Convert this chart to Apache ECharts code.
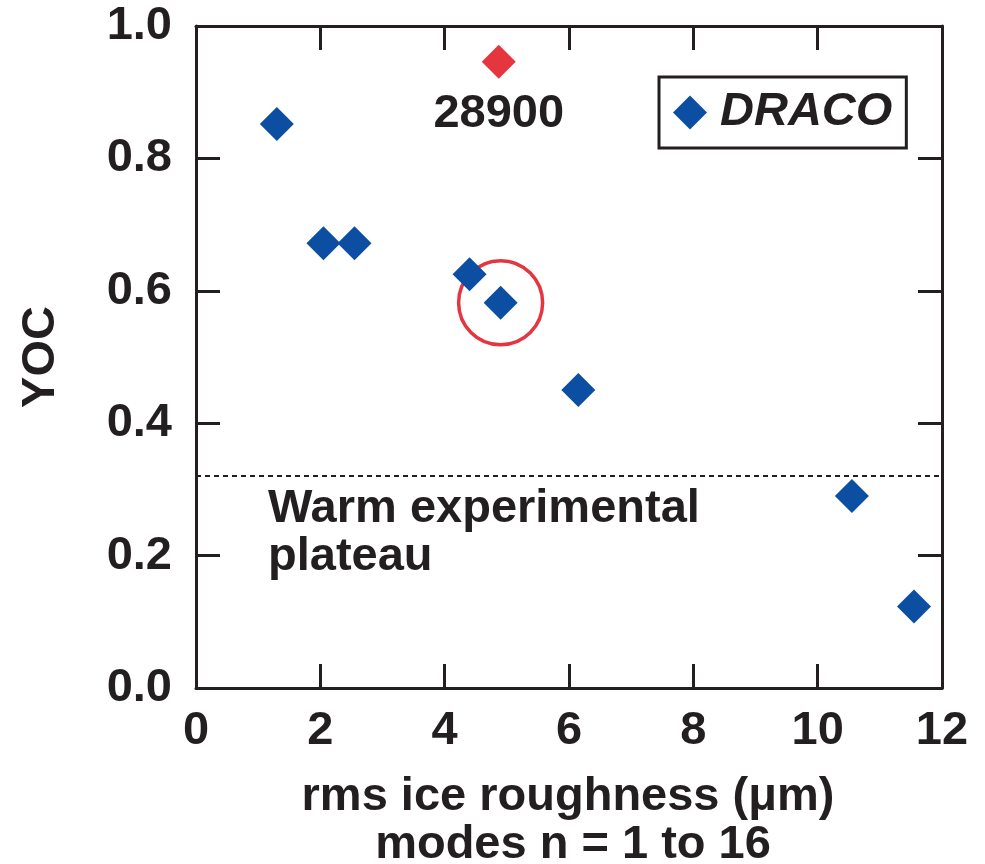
<!DOCTYPE html>
<html>
<head>
<meta charset="utf-8">
<script src="https://cdn.jsdelivr.net/npm/echarts@6/dist/echarts.min.js"></script>
<style>
  html, body { margin: 0; padding: 0; background: #fff; }
  #chart { width: 985px; height: 864px; }
</style>
</head>
<body>
<div id="chart"></div>
<script>
// DRACO points: rms ice roughness (um) vs YOC
const dracoX = [1.3, 2.05, 2.55, 4.4, 4.9, 6.15, 10.55, 11.55];
const dracoY = [0.852, 0.672, 0.672, 0.625, 0.582, 0.45, 0.29, 0.123];
// shot 28900
const shotX = [4.87];
const shotY = [0.946];
const shotLabel = ['28900'];
// circled point (index into DRACO arrays)
const circledIndex = 4;
// warm experimental plateau level
const plateauY = 0.323;

const ink = '#231f20';
const blue = '#0b4ea2';
const red = '#e5353f';
const font = 'Liberation Sans, Arial, sans-serif';

const chart = echarts.init(document.getElementById('chart'));

const axisCommon = {
  type: 'value',
  axisLine: { show: true, onZero: false, lineStyle: { color: ink, width: 3 } },
  axisTick: { show: true, inside: true, length: 24, lineStyle: { color: ink, width: 3 } },
  splitLine: { show: false }
};

const option = {
  animation: false,
  grid: { left: 196, right: 43, top: 26, bottom: 176 },
  xAxis: [
    Object.assign({}, axisCommon, {
      min: 0, max: 12, interval: 2,
      axisLabel: { color: ink, fontSize: 47, fontWeight: 'bold', fontFamily: font, margin: 20 }
    }),
    Object.assign({}, axisCommon, {
      position: 'top', min: 0, max: 12, interval: 2,
      axisLabel: { show: false }
    })
  ],
  yAxis: [
    Object.assign({}, axisCommon, {
      min: 0, max: 1, interval: 0.2,
      axisLabel: {
        color: ink, fontSize: 47, fontWeight: 'bold', fontFamily: font, margin: 24,
        formatter: v => v.toFixed(1)
      }
    }),
    Object.assign({}, axisCommon, {
      position: 'right', min: 0, max: 1, interval: 0.2,
      axisLabel: { show: false }
    })
  ],
  legend: {
    data: ['DRACO'],
    left: 659, top: 77,
    padding: [12, 14, 12, 14],
    itemWidth: 34, itemHeight: 34,
    itemGap: 10,
    borderColor: ink, borderWidth: 3,
    itemStyle: { opacity: 1 },
    textStyle: { color: ink, fontSize: 47, fontWeight: 'bold', fontStyle: 'italic', fontFamily: font, padding: [0, 0, 0, 8] }
  },
  series: [
    {
      name: 'DRACO',
      type: 'scatter',
      symbol: 'diamond',
      symbolSize: 34,
      itemStyle: { color: blue, opacity: 1 },
      data: dracoX.map((x, i) => [x, dracoY[i]]),
      markLine: {
        silent: true,
        symbol: 'none',
        label: { show: false },
        lineStyle: { color: ink, width: 2, type: [5, 4] },
        data: [{ yAxis: plateauY }]
      },
      z: 3
    },
    {
      name: 'circle',
      type: 'scatter',
      symbol: 'circle',
      symbolSize: 84,
      itemStyle: { color: 'rgba(0,0,0,0)', borderColor: red, borderWidth: 3.5, opacity: 1 },
      data: [[dracoX[circledIndex], dracoY[circledIndex]]],
      z: 2
    },
    {
      name: 'shot',
      type: 'scatter',
      symbol: 'diamond',
      symbolSize: 34,
      itemStyle: { color: red, opacity: 1 },
      label: {
        show: true,
        position: 'bottom',
        distance: 12,
        formatter: p => shotLabel[p.dataIndex],
        color: ink, fontSize: 47, fontWeight: 'bold', fontFamily: font
      },
      data: shotX.map((x, i) => [x, shotY[i]])
    }
  ],
  graphic: [
    {
      type: 'text', left: 268, top: 485,
      style: {
        text: 'Warm experimental\nplateau', fill: ink,
        font: 'bold 47px ' + font, lineHeight: 48
      }
    },
    {
      type: 'text', x: 41, y: 357, rotation: Math.PI / 2,
      style: {
        text: 'YOC', fill: ink, font: 'bold 47px ' + font,
        align: 'center', verticalAlign: 'middle'
      }
    },
    {
      type: 'text', x: 568, y: 797,
      style: {
        text: 'rms ice roughness (\u03bcm)', fill: ink, font: 'bold 47px ' + font,
        align: 'center', verticalAlign: 'middle'
      }
    },
    {
      type: 'text', x: 573, y: 845,
      style: {
        text: 'modes n = 1 to 16', fill: ink, font: 'bold 47px ' + font,
        align: 'center', verticalAlign: 'middle'
      }
    }
  ]
};

chart.setOption(option);
</script>
</body>
</html>
